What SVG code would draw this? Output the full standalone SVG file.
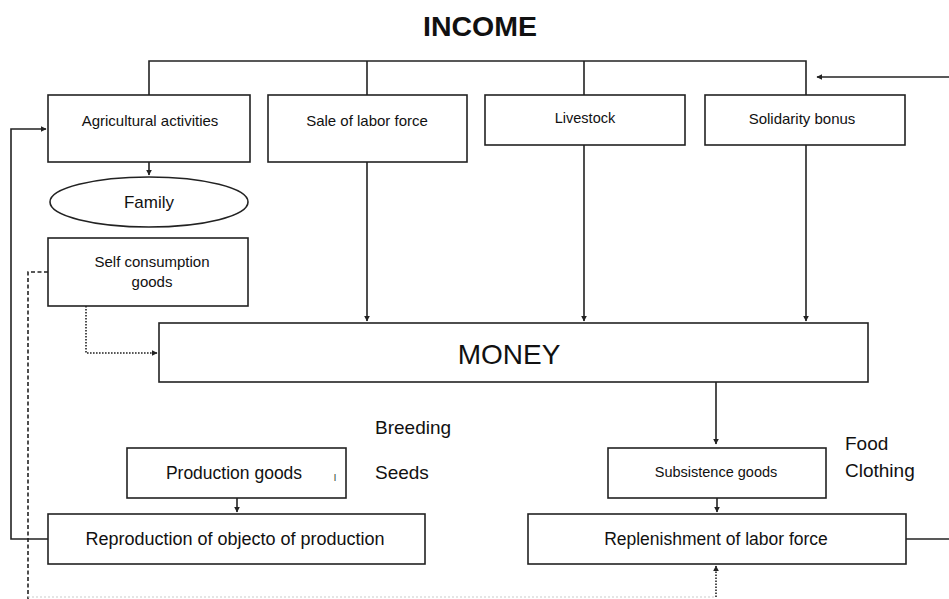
<svg xmlns="http://www.w3.org/2000/svg" width="949" height="599" viewBox="0 0 949 599">
<style>
.box{fill:#fff;stroke:#222;stroke-width:1.6}
.ln{fill:none;stroke:#222;stroke-width:1.6}
.dash{fill:none;stroke:#222;stroke-width:1.6;stroke-dasharray:4 2.5}
.dot{fill:none;stroke:#222;stroke-width:1.6;stroke-dasharray:1.6 1.4}
.faint{fill:none;stroke:#ccc;stroke-width:1.2;stroke-dasharray:2 2}
text{font-family:"Liberation Sans",Arial,sans-serif;fill:#111}
.t{font-size:15px;text-anchor:middle}
.m{font-size:17.5px;text-anchor:middle}
.s{font-size:19px}
</style>
<defs>
<marker id="ah" viewBox="0 0 10 10" refX="9" refY="5" markerWidth="6" markerHeight="6" markerUnits="userSpaceOnUse" orient="auto">
<path d="M0,0 L10,5 L0,10 z" fill="#222"/>
</marker>
</defs>
<text x="480" y="36" font-size="28.5" font-weight="bold" text-anchor="middle">INCOME</text>
<g id="connectors">
<path class="ln" d="M149,95 V61 H806 V95"/>
<path class="ln" d="M367,61 V95"/>
<path class="ln" d="M584,61 V95"/>
<path class="ln" d="M949,77 H817" marker-end="url(#ah)"/>
<path class="ln" d="M149,162 V175" marker-end="url(#ah)"/>
<path class="ln" d="M367,162 V321" marker-end="url(#ah)"/>
<path class="ln" d="M584,145 V321" marker-end="url(#ah)"/>
<path class="ln" d="M806,145 V321" marker-end="url(#ah)"/>
<path class="dot" d="M86,306 V353 H157" marker-end="url(#ah)"/>
<path class="dash" d="M48,272 H28 V599"/>
<path class="ln" d="M48,539 H11 V129 H46" marker-end="url(#ah)"/>
<path class="ln" d="M716,382 V444" marker-end="url(#ah)"/>
<path class="ln" d="M237,498 V512" marker-end="url(#ah)"/>
<path class="ln" d="M717,498 V512" marker-end="url(#ah)"/>
<path class="ln" d="M906,539 H949"/>
<path class="dot" d="M716,597 V566" marker-end="url(#ah)"/>
<path class="faint" d="M28,597 H716"/>
</g>
<g id="agri"><rect class="box" x="48" y="95" width="202" height="67"/><text class="t" x="150" y="126">Agricultural activities</text></g>
<g id="sale"><rect class="box" x="268" y="95" width="199" height="67"/><text class="t" x="367" y="126">Sale of labor force</text></g>
<g id="livestock"><rect class="box" x="485" y="95" width="200" height="50"/><text x="585" y="123" font-size="14.5" text-anchor="middle">Livestock</text></g>
<g id="solidarity"><rect class="box" x="705" y="95" width="200" height="50"/><text class="t" x="802" y="124">Solidarity bonus</text></g>
<g id="family"><ellipse class="box" cx="149" cy="202" rx="99" ry="25"/><text x="149" y="208" font-size="17" text-anchor="middle">Family</text></g>
<g id="self"><rect class="box" x="48" y="238" width="200" height="68"/><text class="t" x="152" y="267">Self consumption</text><text class="t" x="152" y="287">goods</text></g>
<g id="money"><rect class="box" x="159" y="323" width="709" height="59"/><text x="509" y="364" font-size="28" text-anchor="middle">MONEY</text></g>
<g id="labels"><text class="s" x="375" y="434">Breeding</text><text class="s" x="375" y="479">Seeds</text><text class="s" x="845" y="450">Food</text><text class="s" x="845" y="477">Clothing</text></g>
<g id="production"><rect class="box" x="127" y="448" width="219" height="50"/><text class="m" x="234" y="479">Production goods</text><text x="334" y="481" font-size="9">l</text></g>
<g id="subsistence"><rect class="box" x="608" y="448" width="218" height="50"/><text x="716" y="477" font-size="14.5" text-anchor="middle">Subsistence goods</text></g>
<g id="reproduction"><rect class="box" x="48" y="514" width="377" height="50"/><text x="235" y="545" font-size="18" text-anchor="middle">Reproduction of objecto of production</text></g>
<g id="replenishment"><rect class="box" x="528" y="514" width="378" height="50"/><text class="m" x="716" y="545">Replenishment of labor force</text></g>
</svg>
